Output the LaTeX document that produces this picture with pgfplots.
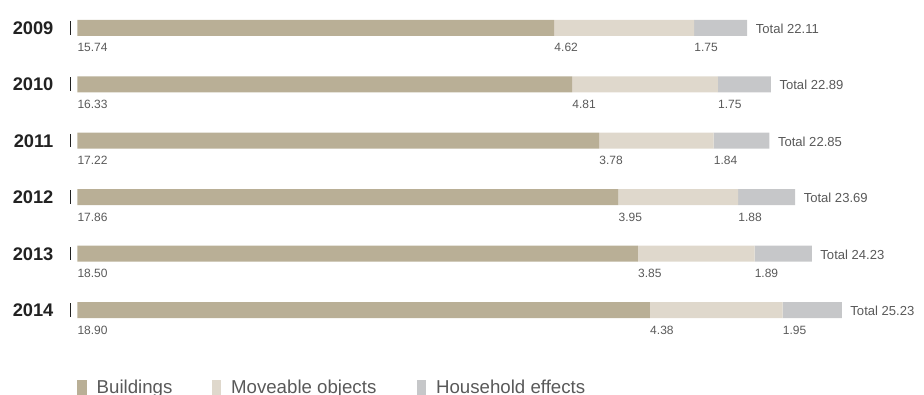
\documentclass[border=0pt]{standalone}
\usepackage{fontspec}
\setmainfont{Liberation Sans}
\usepackage{pgfplots}
\pgfplotsset{compat=1.18}
\usepackage{pgfplotstable}
\definecolor{cb}{HTML}{B9AF96}
\definecolor{cm}{HTML}{DFD8CC}
\definecolor{ch}{HTML}{C6C7C9}
\definecolor{txt}{HTML}{595959}
\definecolor{yr}{HTML}{222222}

\pgfplotstableread{
idx year b m h total
0 2009 15.74 4.62 1.75 22.11
1 2010 16.33 4.81 1.75 22.89
2 2011 17.22 3.78 1.84 22.85
3 2012 17.86 3.95 1.88 23.69
4 2013 18.50 3.85 1.89 24.23
5 2014 18.90 4.38 1.95 25.23
}\data

\pgfplotsset{base/.style={scale only axis, width=693pt, height=295.5pt,
  at={(0,0)}, anchor=south west, xmin=-2.551, xmax=27.944,
  ymin=-0.4926, ymax=6.488, y dir=reverse, hide axis, clip=false},
  sqlegend/.style={legend image code/.code={\fill[##1] (0pt,-1.5pt) rectangle (7.05pt,10pt);}},
  vlab/.style={draw=none, point meta=explicit symbolic, nodes near coords={\pgfplotspointmeta},
  every node near coord/.append style={anchor=base west, inner sep=0pt, yshift=-18pt,
  font=\fontsize{9}{10}\selectfont, text=txt}}}

\begin{document}
\begin{tikzpicture}
\begin{axis}[base, xbar stacked, bar width=12pt,
  every axis plot post/.append style={sqlegend},
  legend columns=3,
  legend style={at={(0.08366,-0.0035)}, anchor=south west, draw=none, fill=none,
    inner sep=0pt, outer sep=0pt, font=\fontsize{14}{16}\selectfont, text=txt,
    nodes={inner sep=0pt}, cells={anchor=base west},
    /tikz/every odd column/.append style={column sep=7.5pt}}]
\addplot[fill=cb, draw=none] table[x=b,y=idx]{\data};
\addplot[fill=cm, draw=none] table[x=m,y=idx]{\data};
\addplot[fill=ch, draw=none] table[x=h,y=idx]{\data};
\legend{\makebox[86.25pt][l]{Buildings},\makebox[139.2pt][l]{Moveable objects},Household effects}
\end{axis}
\begin{axis}[base]
% value labels
\addplot[vlab] table[x expr=0, y=idx, meta=b]{\data};
\addplot[vlab] table[x=b, y=idx, meta=m]{\data};
\addplot[vlab] table[x expr=\thisrow{b}+\thisrow{m}, y=idx, meta=h]{\data};
% totals
\addplot[draw=none, point meta=explicit symbolic, nodes near coords={Total \pgfplotspointmeta},
  every node near coord/.append style={anchor=base west, inner sep=0pt, xshift=6.3pt, yshift=-4.1pt,
  font=\fontsize{9.8}{11}\selectfont, text=txt}] table[x expr=\thisrow{b}+\thisrow{m}+\thisrow{h}, y=idx, meta=total]{\data};
% years
\addplot[draw=none, point meta=explicit symbolic, nodes near coords={\textbf{\pgfplotspointmeta}},
  every node near coord/.append style={anchor=base east, inner sep=0pt, yshift=-4.9pt,
  font=\fontsize{13.7}{15}\selectfont, text=yr}] table[x expr=-0.78, y=idx, meta=year]{\data};
% tick lines
\addplot[only marks, mark=|, mark size=5.1pt, mark options={line width=0.75pt, draw=yr}] table[x expr=-0.208, y=idx]{\data};
\end{axis}
\pgfresetboundingbox
\path[use as bounding box] (0,0) rectangle (693pt,295.5pt);
\end{tikzpicture}
\end{document}
